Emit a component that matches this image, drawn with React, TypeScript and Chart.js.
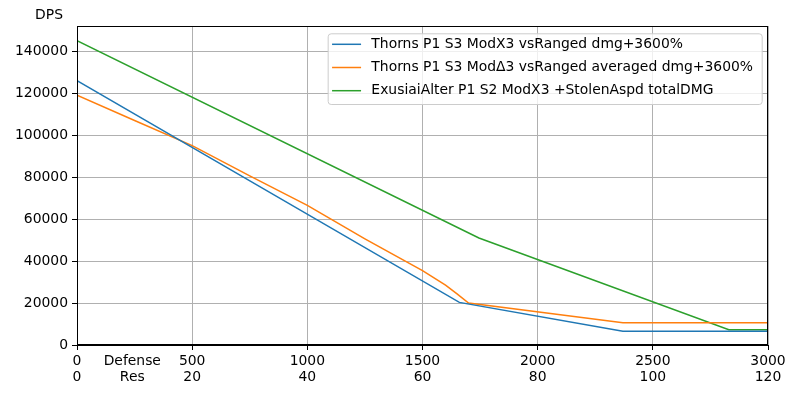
import { useEffect, useRef } from "react"
import { Chart, registerables, type ChartConfiguration, type Plugin } from "chart.js"

Chart.register(...registerables)

// x axis: defense on the first row, res on the second
const defenseTicks = [0, 500, 1000, 1500, 2000, 2500, 3000]
const resTicks = [0, 20, 40, 60, 80, 100, 120]
const dpsTicks = [0, 20000, 40000, 60000, 80000, 100000, 120000, 140000]

const seriesLabels = [
  "Thorns P1 S3 ModX3 vsRanged dmg+3600%",
  "Thorns P1 S3 ModΔ3 vsRanged averaged dmg+3600%",
  "ExusiaiAlter P1 S2 ModX3 +StolenAspd totalDMG",
]
const seriesColors = ["#1f77b4", "#ff7f0e", "#2ca02c"]

const thornsDefense = [0, 1660, 2370, 3000]
const thornsDps = [126000, 20300, 6500, 6500]

const thornsAvgDefense = [0, 250, 500, 750, 1000, 1250, 1500, 1600, 1650, 1700, 2370, 3000]
const thornsAvgDps = [119000, 107000, 95000, 80600, 66500, 50600, 35400, 28500, 24400, 20000, 10600, 10600]

const exusiaiDefense = [0, 1745, 2830, 3000]
const exusiaiDps = [145000, 51000, 7300, 7300]

const FONT = "'DejaVu Sans', sans-serif"
const SIZE = 13.9

const toPoints = (xs: number[], ys: number[]) => xs.map((x, i) => ({ x, y: ys[i] }))

// top/right spines like matplotlib
const framePlugin: Plugin<"line"> = {
  id: "frame",
  afterDatasetsDraw(chart) {
    const { ctx, chartArea } = chart
    const l = Math.round(chartArea.left) + 0.5
    const t = Math.round(chartArea.top) + 0.5
    const r = Math.round(chartArea.right) - 0.5
    const b = Math.round(chartArea.bottom) - 0.5
    ctx.save()
    ctx.strokeStyle = "#000"
    ctx.lineWidth = 1
    ctx.strokeRect(l, t, r - l, b - t)
    ctx.restore()
  },
}

const axisTextPlugin: Plugin<"line"> = {
  id: "axisText",
  afterDraw(chart) {
    const { ctx, chartArea } = chart
    const xScale = chart.scales.x
    ctx.save()
    ctx.fillStyle = "#000"
    ctx.font = `${SIZE}px ${FONT}`
    ctx.textAlign = "center"
    ctx.textBaseline = "middle"
    ctx.fillText("DPS", chartArea.left - 28, chartArea.top - 11)
    ctx.textBaseline = "alphabetic"
    const cx = xScale.getPixelForValue(240)
    ctx.fillText("Defense", cx, chartArea.bottom + 19.5)
    ctx.fillText("Res", cx, chartArea.bottom + 35.5)
    ctx.restore()
  },
}

const legendPlugin: Plugin<"line"> = {
  id: "boxLegend",
  afterDraw(chart) {
    const { ctx, chartArea } = chart
    const datasets = chart.data.datasets
    ctx.save()
    ctx.font = `${SIZE}px ${FONT}`
    const textW = Math.max(...datasets.map((d) => ctx.measureText(d.label ?? "").width))
    const rowH = 23.2
    const w = 4.4 + 29 + 10.3 + textW + 8.7
    const h = 11 + rowH * (datasets.length - 1) + 13.3
    const right = chartArea.right - 6.3
    const left = right - w
    const top = chartArea.top + 7.3

    ctx.beginPath()
    ctx.roundRect(left + 0.5, top + 0.5, w, h, 3)
    ctx.fillStyle = "rgba(255,255,255,0.8)"
    ctx.fill()
    ctx.strokeStyle = "#cccccc"
    ctx.lineWidth = 1
    ctx.stroke()

    datasets.forEach((d, i) => {
      const y = top + 11 + i * rowH
      ctx.beginPath()
      ctx.moveTo(left + 4.4, y)
      ctx.lineTo(left + 33.4, y)
      ctx.strokeStyle = d.borderColor as string
      ctx.lineWidth = 1.5
      ctx.stroke()
      ctx.fillStyle = "#000"
      ctx.textAlign = "left"
      ctx.textBaseline = "middle"
      ctx.fillText(d.label ?? "", left + 43.7, y)
    })
    ctx.restore()
  },
}

function DpsChart() {
  const chartRef = useRef<HTMLCanvasElement>(null)
  const chartInstance = useRef<Chart | null>(null)

  useEffect(() => {
    if (!chartRef.current) return
    const ctx = chartRef.current.getContext("2d")
    if (!ctx) return

    if (chartInstance.current) {
      chartInstance.current.destroy()
    }

    const series = [
      toPoints(thornsDefense, thornsDps),
      toPoints(thornsAvgDefense, thornsAvgDps),
      toPoints(exusiaiDefense, exusiaiDps),
    ]

    const config: ChartConfiguration<"line"> = {
      type: "line",
      data: {
        datasets: series.map((data, i) => ({
          label: seriesLabels[i],
          data,
          borderColor: seriesColors[i],
          backgroundColor: seriesColors[i],
          borderWidth: 1.5,
          pointRadius: 0,
          tension: 0,
          fill: false,
        })),
      },
      options: {
        animation: false,
        responsive: true,
        maintainAspectRatio: false,
        layout: { padding: { left: 0, top: 26, right: 32, bottom: 0 } },
        font: { family: FONT, size: SIZE },
        color: "#000",
        plugins: {
          legend: { display: false },
          tooltip: { enabled: false },
        },
        scales: {
          x: {
            type: "linear",
            min: 0,
            max: 3000,
            afterFit: (scale) => {
              scale.height = 55
            },
            afterBuildTicks: (scale) => {
              scale.ticks = defenseTicks.map((value) => ({ value }))
            },
            ticks: {
              color: "#000",
              font: { family: FONT, size: SIZE, lineHeight: 1.16 },
              padding: 3,
              maxRotation: 0,
              callback: (value) => {
                const i = defenseTicks.indexOf(Number(value))
                return [String(value), String(resTicks[i] ?? "")]
              },
            },
            grid: { color: "#b0b0b0", lineWidth: 1, tickColor: "#000", tickLength: 5 },
            border: { color: "#000", width: 1 },
          },
          y: {
            type: "linear",
            min: 0,
            max: 152000,
            afterFit: (scale) => {
              scale.width = 77
            },
            afterBuildTicks: (scale) => {
              scale.ticks = dpsTicks.map((value) => ({ value }))
            },
            ticks: {
              color: "#000",
              font: { family: FONT, size: SIZE },
              padding: 4,
              callback: (value) => String(value),
            },
            grid: { color: "#b0b0b0", lineWidth: 1, tickColor: "#000", tickLength: 5 },
            border: { color: "#000", width: 1 },
          },
        },
      },
      plugins: [framePlugin, axisTextPlugin, legendPlugin],
    }

    chartInstance.current = new Chart(ctx, config)

    return () => {
      if (chartInstance.current) {
        chartInstance.current.destroy()
        chartInstance.current = null
      }
    }
  }, [])

  return <canvas ref={chartRef} />
}

export default function App() {
  return (
    <div style={{ position: "absolute", left: 0, top: 0, width: 800, height: 400, background: "#fff" }}>
      <DpsChart />
    </div>
  )
}
